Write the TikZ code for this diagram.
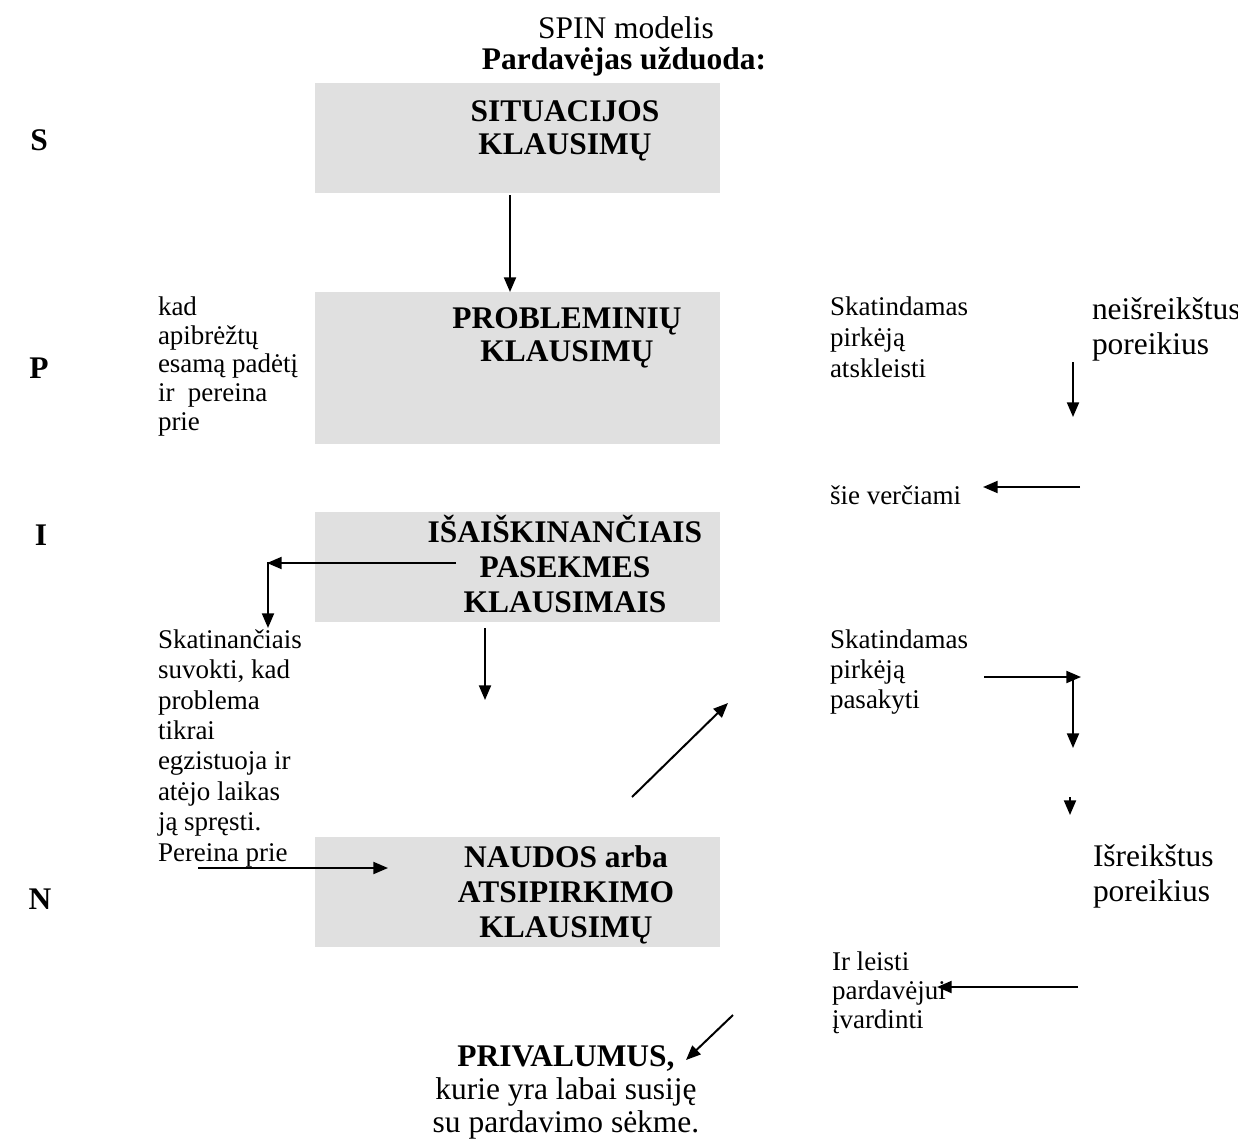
\documentclass[tikz,border=0pt]{standalone}
\usepackage{fontspec}
\setmainfont{Liberation Serif}
\usetikzlibrary{arrows.meta}
\definecolor{boxgray}{RGB}{224,224,224}
\begin{document}
\begin{tikzpicture}[x=0.75pt,y=-0.75pt,
  box/.style={fill=boxgray, draw=none, inner sep=0, outer sep=0, anchor=north west, minimum width=303.75pt},
  txt/.style={inner sep=0, outer sep=0},
  big/.style={font=\fontsize{23.6}{26}\selectfont},
  bigb/.style={font=\fontsize{23.6}{26}\selectfont\bfseries},
  small/.style={font=\fontsize{20.25}{22.5}\selectfont},
  arr/.style={line width=1.5pt, -{Triangle[length=11pt,width=9pt]}},
]
\useasboundingbox (0,0) rectangle (1238,1146);

% boxes
\node[box, minimum height=82.5pt] (b1) at (315,83) {};
\node[box, minimum height=114pt] (b2) at (315,292) {};
\node[box, minimum height=82.5pt] (b3) at (315,512) {};
\node[box, minimum height=82.5pt] (b4) at (315,837) {};

% titles
\node[txt, big, anchor=base] (title) at (626,38) {SPIN modelis};
\node[txt, bigb, anchor=base] (sub) at (624,69) {Pardavėjas užduoda:};

% box texts (anchor base = baseline of last line)
\node[txt, align=center, anchor=base, font=\fontsize{23.6}{24.75}\selectfont\bfseries] (t1) at (565,154) {SITUACIJOS\\KLAUSIMŲ};
\node[txt, align=center, anchor=base, font=\fontsize{23.6}{24.75}\selectfont\bfseries] (t2) at (567,361) {PROBLEMINIŲ\\KLAUSIMŲ};
\node[txt, align=center, anchor=base, font=\fontsize{23.6}{26.25}\selectfont\bfseries] (t3) at (565,612) {IŠAIŠKINANČIAIS\\PASEKMES\\KLAUSIMAIS};
\node[txt, align=center, anchor=base, font=\fontsize{23.6}{26.25}\selectfont\bfseries] (t4) at (566,937) {NAUDOS arba\\ATSIPIRKIMO\\KLAUSIMŲ};

% letters
\node[txt, bigb, anchor=base] (lS) at (39,150) {S};
\node[txt, bigb, anchor=base] (lP) at (39,378) {P};
\node[txt, bigb, anchor=base] (lI) at (41,545) {I};
\node[txt, bigb, anchor=base] (lN) at (40,909) {N};

% left texts
\node[txt, align=left, anchor=base west, font=\fontsize{20.25}{21.4}\selectfont] (kad) at (158,430) {kad\\apibrėžtų\\esamą padėtį\\ir\ \ pereina\\prie};
\node[txt, align=left, anchor=base west, font=\fontsize{20.25}{22.8}\selectfont] (skat) at (158,861) {Skatinančiais\\suvokti, kad\\problema\\tikrai\\egzistuoja ir\\atėjo laikas\\ją spręsti.\\Pereina prie};

% right texts
\node[txt, align=left, anchor=base west, font=\fontsize{20.25}{22.9}\selectfont] (sk1) at (830,377) {Skatindamas\\pirkėją\\atskleisti};
\node[txt, align=left, anchor=base west, font=\fontsize{23.6}{26}\selectfont] (neis) at (1092,354) {neišreikštus\\poreikius};
\node[txt, small, anchor=base west] (sie) at (830,504) {šie verčiami};
\node[txt, align=left, anchor=base west, font=\fontsize{20.25}{22.5}\selectfont] (sk2) at (830,708) {Skatindamas\\pirkėją\\pasakyti};
\node[txt, align=left, anchor=base west, font=\fontsize{23.6}{26}\selectfont] (isr) at (1093,901) {Išreikštus\\poreikius};
\node[txt, align=left, anchor=base west, font=\fontsize{20.25}{21.4}\selectfont] (ir) at (832,1028) {Ir leisti\\pardavėjui\\įvardinti};

% bottom
\node[txt, align=center, anchor=base, font=\fontsize{23.6}{24.75}\selectfont] (priv) at (566,1132) {\textbf{PRIVALUMUS,}\\kurie yra labai susiję\\su pardavimo sėkme.};

% arrow coordinates
\coordinate (a1s) at (510,195);  \coordinate (a1e) at (510,292);
\coordinate (a2s) at (456,563);  \coordinate (a2e) at (267,563);
\coordinate (a3s) at (268,562);  \coordinate (a3e) at (268,628);
\coordinate (a4s) at (485,628);  \coordinate (a4e) at (485,700);
\coordinate (a5s) at (632,797);  \coordinate (a5e) at (728,703);
\coordinate (a6s) at (198,868);  \coordinate (a6e) at (388,868);
\coordinate (a7s) at (733,1015); \coordinate (a7e) at (686,1060);
\coordinate (a8s) at (1073,362); \coordinate (a8e) at (1073,417);
\coordinate (a9s) at (1080,487); \coordinate (a9e) at (983,487);
\coordinate (a10s) at (984,677); \coordinate (a10e) at (1081,677);
\coordinate (a11s) at (1073,676); \coordinate (a11e) at (1073,748);
\coordinate (a12s) at (1070,797); \coordinate (a12e) at (1070,815);
\coordinate (a13s) at (1078,987); \coordinate (a13e) at (937,987);

\draw[arr] (a1s) -- (a1e);
\draw[arr] (a2s) -- (a2e);
\draw[arr] (a3s) -- (a3e);
\draw[arr] (a4s) -- (a4e);
\draw[arr] (a5s) -- (a5e);
\draw[arr] (a6s) -- (a6e);
\draw[arr] (a7s) -- (a7e);
\draw[arr] (a8s) -- (a8e);
\draw[arr] (a9s) -- (a9e);
\draw[arr] (a10s) -- (a10e);
\draw[arr] (a11s) -- (a11e);
\draw[arr] (a12s) -- (a12e);
\draw[arr] (a13s) -- (a13e);
\end{tikzpicture}
\end{document}
